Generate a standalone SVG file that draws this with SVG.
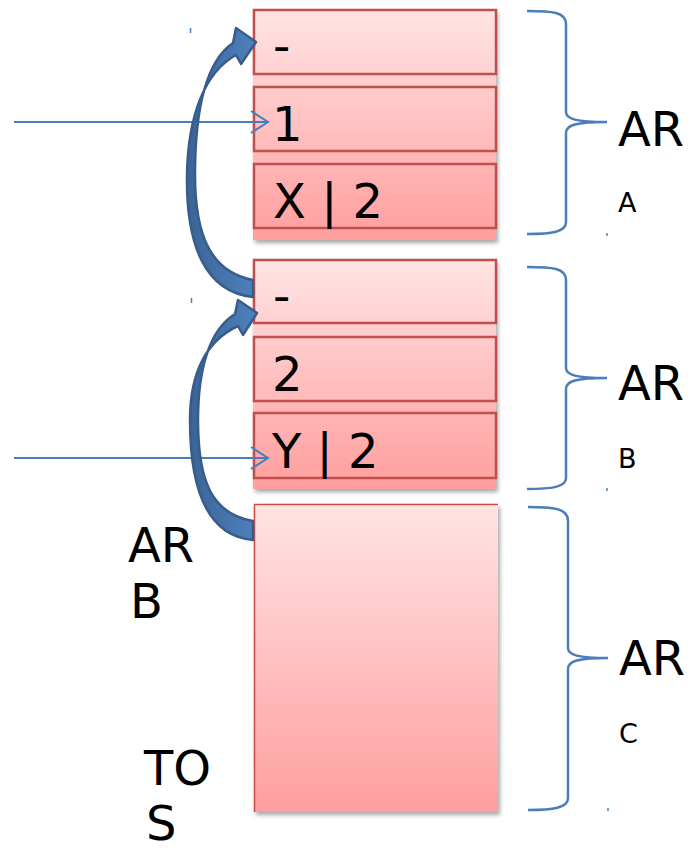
<svg xmlns="http://www.w3.org/2000/svg" width="692" height="851" viewBox="0 0 692 851">
<defs>
<linearGradient id="pink" x1="0" y1="0" x2="0" y2="1">
<stop offset="0" stop-color="#ffe4e4"/>
<stop offset="1" stop-color="#ff9e9e"/>
</linearGradient>
<linearGradient id="blueG" x1="0" y1="0" x2="1" y2="0">
<stop offset="0" stop-color="#3b6497"/>
<stop offset="1" stop-color="#4f81bd"/>
</linearGradient>
<filter id="sh" x="-10%" y="-10%" width="125%" height="125%">
<feDropShadow dx="2" dy="3" stdDeviation="2" flood-color="#000" flood-opacity="0.35"/>
</filter>
<marker id="chev" viewBox="0 0 20 24" refX="18" refY="12" markerWidth="20" markerHeight="24" markerUnits="userSpaceOnUse" orient="auto">
<path d="M1,1 L18,12 L1,23" fill="none" stroke="#4a7ebb" stroke-width="2"/>
</marker>
</defs>
<style>
.cell{fill:none;stroke:#c0504d;stroke-width:2.5}
.t{font-family:"DejaVu Sans",sans-serif;font-size:48px;fill:#000}
.s{font-family:"DejaVu Sans",sans-serif;font-size:27px;fill:#000}
.brace{fill:none;stroke:#4a7ebb;stroke-width:2.5}
.ptr{stroke:#4a7ebb;stroke-width:2;fill:none}
.curve{fill:url(#blueG);stroke:#385d8a;stroke-width:2.5;stroke-linejoin:round}
.tick{stroke:#4a7ebb;stroke-width:1.5}
</style>

<g id="ar-a">
<rect x="253" y="10" width="243" height="230" fill="url(#pink)" filter="url(#sh)"/>
<rect class="cell" x="254" y="10" width="242" height="64"/>
<rect class="cell" x="254" y="87" width="242" height="64"/>
<rect class="cell" x="254" y="164" width="242" height="64"/>
<text class="t" x="273" y="62">-</text>
<text class="t" x="272" y="141">1</text>
<text class="t" x="273" y="218">X | 2</text>
</g>

<g id="ar-b">
<rect x="253" y="260" width="243" height="229" fill="url(#pink)" filter="url(#sh)"/>
<rect class="cell" x="254" y="260" width="242" height="63"/>
<rect class="cell" x="254" y="337" width="242" height="64"/>
<rect class="cell" x="254" y="413" width="242" height="65"/>
<text class="t" x="273" y="312">-</text>
<text class="t" x="272" y="391">2</text>
<text class="t" x="272" y="468">Y | 2</text>
</g>

<g id="ar-c">
<rect x="254" y="504" width="244" height="308" fill="url(#pink)" filter="url(#sh)"/>
<path d="M254.5,812 L254.5,504.5 L498,504.5" fill="none" stroke="#d24a48" stroke-width="1.5"/>
</g>

<g id="labels">
<text class="t" x="618" y="146">AR</text>
<text class="s" x="618" y="212">A</text>
<text class="t" x="618" y="400">AR</text>
<text class="s" x="618" y="468">B</text>
<text class="t" x="619" y="675">AR</text>
<text class="s" x="619" y="743">C</text>
<text class="t" x="128" y="562">AR</text>
<text class="t" x="130" y="618">B</text>
<text class="t" x="144" y="785">TO</text>
<text class="t" x="146" y="840">S</text>
</g>

<g id="connectors">
<path class="brace" d="M527,11 C552,11 566,12 566,24 L566,112 C566,119 576,122 607,122 C576,122 566,125 566,133 L566,222 C566,232 552,234 527,234"/>
<path class="brace" d="M527,267 C552,267 566,268 566,280 L566,368 C566,375 576,378 607,378 C576,378 566,381 566,389 L566,478 C566,487 552,489 527,489"/>
<path class="brace" d="M528,507 C553,507 568,508 568,521 L568,648 C568,655 578,658 608,658 C578,658 568,661 568,669 L568,798 C568,808 553,810 528,810"/>
<line class="ptr" x1="14" y1="122" x2="268" y2="122" marker-end="url(#chev)"/>
<line class="ptr" x1="14" y1="458" x2="268" y2="458" marker-end="url(#chev)"/>
<path class="curve" d="M253,297 C205,292 186,245 187,175 C188,115 205,72 236,55 L241,64 L256,42 L236,28 L233,43 C205,62 195,110 195,175 C195,238 212,272 253,280 Z"/>
<path class="curve" d="M253,540 C207,536 190,490 190,420 C190,372 207,340 238,326 L243,335 L257,313 L238,300 L235,314 C209,330 198,370 198,420 C198,482 212,514 253,521 Z"/>
<line class="tick" x1="190.5" y1="28" x2="190.5" y2="33"/>
<line class="tick" x1="191.5" y1="298" x2="191.5" y2="303"/>
<line class="tick" x1="607" y1="233" x2="607" y2="236"/>
<line class="tick" x1="607" y1="488" x2="607" y2="491"/>
<line class="tick" x1="608" y1="808" x2="608" y2="811"/>
</g>
</svg>
